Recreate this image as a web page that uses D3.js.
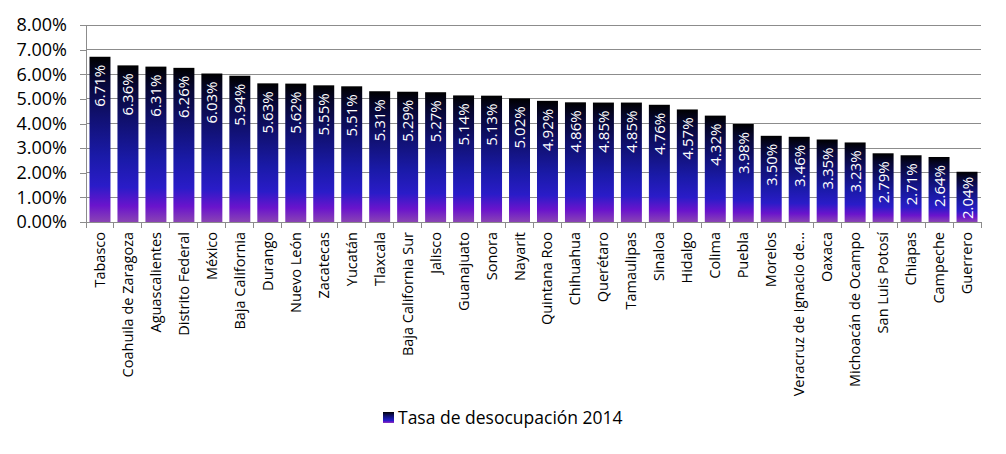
<!DOCTYPE html>
<html><head><meta charset="utf-8">
<script src="https://cdn.jsdelivr.net/npm/d3@7"></script>
<style>body{margin:0;background:#fff}svg{display:block}text{font-family:"Open Sans","Noto Sans",sans-serif}</style>
</head><body><svg id="c" width="1006" height="454"></svg>
<script>
const categories = ["Tabasco","Coahuila de Zaragoza","Aguascalientes","Distrito Federal","México","Baja California","Durango","Nuevo León","Zacatecas","Yucatán","Tlaxcala","Baja California Sur","Jalisco","Guanajuato","Sonora","Nayarit","Quintana Roo","Chihuahua","Querétaro","Tamaulipas","Sinaloa","Hidalgo","Colima","Puebla","Morelos","Veracruz de Ignacio de...","Oaxaca","Michoacán de Ocampo","San Luis Potosí","Chiapas","Campeche","Guerrero"];
const values = [6.71,6.36,6.31,6.26,6.03,5.94,5.63,5.62,5.55,5.51,5.31,5.29,5.27,5.14,5.13,5.02,4.92,4.86,4.85,4.85,4.76,4.57,4.32,3.98,3.50,3.46,3.35,3.23,2.79,2.71,2.64,2.04];
const yTicks = [0,1,2,3,4,5,6,7,8];
const seriesName = "Tasa de desocupación 2014";

const svg = d3.select("#c");
const L = 86, R = 981, T = 25, B = 222;
const x = d3.scaleBand().domain(categories).range([L, R]).paddingInner(0.25).paddingOuter(0.125);
const y = d3.scaleLinear().domain([0, 8]).range([B, T]);

const defs = svg.append("defs");
const g = defs.append("linearGradient").attr("id","bg").attr("x1",0).attr("y1",0).attr("x2",0).attr("y2",1);
[[0,"#000000"],[0.12,"#06062e"],[0.35,"#10106e"],[0.6,"#1a1aa8"],[0.78,"#2a1cc8"],[0.9,"#6a14cc"],[1,"#8a44b4"]]
  .forEach(([o,c]) => g.append("stop").attr("offset",o).attr("stop-color",c));

// gridlines
svg.append("g").selectAll("line").data(yTicks).join("line")
  .attr("x1", L).attr("x2", R).attr("y1", d => y(d)).attr("y2", d => y(d))
  .attr("stroke", "#8c8c8c").attr("stroke-width", 1).attr("shape-rendering","crispEdges");

// y axis
const ya = svg.append("g").attr("transform", `translate(${L},0)`)
  .call(d3.axisLeft(y).tickValues(yTicks).tickSize(6).tickPadding(13).tickFormat(d => d.toFixed(2) + "%"));
ya.select(".domain").attr("stroke", "#8c8c8c").attr("d", `M0,${T}V${B}`);
ya.selectAll(".tick line").attr("stroke", "#8c8c8c");
ya.selectAll("text").attr("font-size", 18).attr("fill", "#000");
ya.attr("shape-rendering","crispEdges");

// bars
svg.append("g").selectAll("rect").data(values).join("rect")
  .attr("x", (d,i) => x(categories[i])).attr("width", x.bandwidth())
  .attr("y", d => y(d)).attr("height", d => B - y(d))
  .attr("fill", "url(#bg)");

// x axis
const step = x.step();
const xa = svg.append("g").attr("shape-rendering","crispEdges");
xa.append("line").attr("x1", L).attr("x2", R).attr("y1", B).attr("y2", B).attr("stroke", "#8c8c8c");
xa.selectAll("line.t").data(d3.range(categories.length + 1)).join("line").attr("class","t")
  .attr("x1", i => L + i * step).attr("x2", i => L + i * step)
  .attr("y1", B).attr("y2", B + 6).attr("stroke", "#8c8c8c");

svg.append("g").selectAll("text").data(categories).join("text")
  .attr("transform", d => `translate(${x(d) + x.bandwidth()/2 + 5},${B + 10}) rotate(-90)`)
  .attr("text-anchor", "end").attr("font-size", 14.5).attr("fill", "#000")
  .text(d => d);

// data labels (clipped to their bar when they do not fit)
values.forEach((d, i) => {
  defs.append("clipPath").attr("id", "cl" + i).append("rect")
    .attr("x", x(categories[i])).attr("width", x.bandwidth())
    .attr("y", y(d) + 1).attr("height", B - y(d) - 1);
});
const lblG = svg.append("g").selectAll("g").data(values).join("g");
lblG.each(function(d, i) {
  const gg = d3.select(this);
  const t = gg.append("text").attr("font-size", 15).attr("fill", "#fff").text(d.toFixed(2) + "%");
  const len = t.node().getComputedTextLength();
  const cx = x(categories[i]) + x.bandwidth()/2 + 5.5;
  if (len + 10 > B - y(d)) {
    gg.attr("clip-path", `url(#cl${i})`);
    t.attr("transform", `translate(${cx},${B - 3}) rotate(-90)`).attr("text-anchor", "start");
  } else {
    t.attr("transform", `translate(${cx},${y(d) + 8}) rotate(-90)`).attr("text-anchor", "end");
  }
});

// legend
const lg = svg.append("g");
lg.append("rect").attr("x", 383).attr("y", 412).attr("width", 11).attr("height", 11).attr("fill", "url(#bg)");
lg.append("text").attr("x", 398).attr("y", 424).attr("font-size", 17.5).attr("fill", "#000").text(seriesName);
</script></body></html>
